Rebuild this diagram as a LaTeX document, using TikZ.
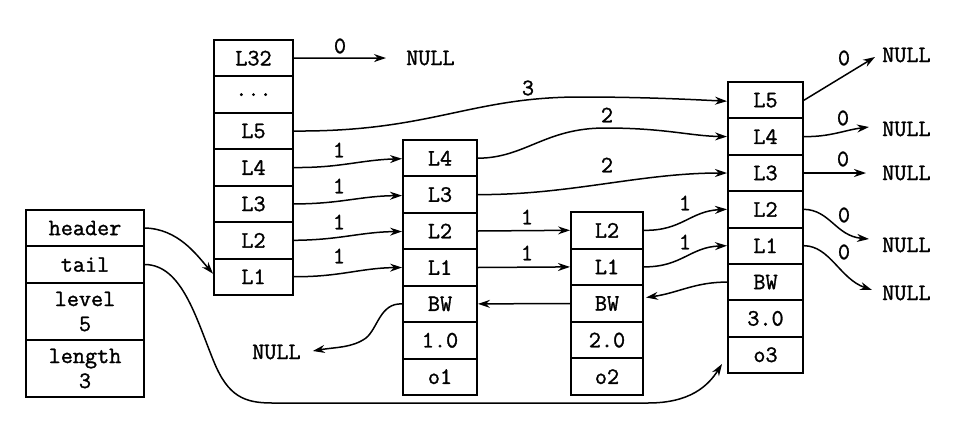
\documentclass[tikz,border=0pt]{standalone}
\usepackage{fontspec}
\usetikzlibrary{arrows.meta,calc}
\newfontfamily\courfam[FakeBold=1.3]{Latin Modern Mono}
\newcommand\mytxt{\courfam\fontsize{23.5}{25}\selectfont}
\tikzset{
  cell/.style={draw, line width=2pt, inner sep=0pt, font=\mytxt, align=center},
  hc/.style={cell, minimum width=118pt},
  c0/.style={cell, minimum width=79pt, minimum height=36.4pt},
  c1/.style={cell, minimum width=74pt, minimum height=36.4pt},
  c2/.style={cell, minimum width=72pt, minimum height=36.6pt},
  c3/.style={cell, minimum width=75pt, minimum height=36.4pt},
  lnk/.style={line width=1.5pt, -{Stealth[length=12pt,width=8pt]}},
  num/.style={font=\mytxt, inner sep=0pt},
  nul/.style={font=\mytxt, inner sep=0pt, anchor=west}
}
\begin{document}
\begin{tikzpicture}[x=1pt,y=-1pt]
\useasboundingbox (0,0) rectangle (978,426);
% list header
\node[hc, minimum height=36pt] (hd) at (85,228) {header};
\node[hc, minimum height=37pt] (tl) at (85,264.5) {tail};
\node[hc, minimum height=57pt] (lv) at (85,311.5) {level\\5};
\node[hc, minimum height=57pt] (ln) at (85,368.5) {length\\3};
% header node
\node[c0] (h32) at (253.5,58.2) {L32};
\node[c0] (hdt) at (253.5,94.6) {...};
\node[c0] (h5) at (253.5,131) {L5};
\node[c0] (h4) at (253.5,167.5) {L4};
\node[c0] (h3) at (253.5,203.9) {L3};
\node[c0] (h2) at (253.5,240.3) {L2};
\node[c0] (h1) at (253.5,276.7) {L1};
% node 1
\node[c1] (a4) at (440,158.2) {L4};
\node[c1] (a3) at (440,194.6) {L3};
\node[c1] (a2) at (440,231) {L2};
\node[c1] (a1) at (440,267.5) {L1};
\node[c1] (abw) at (440,303.9) {BW};
\node[c1] (asc) at (440,340.3) {1.0};
\node[c1] (aob) at (440,376.7) {o1};
% node 2
\node[c2] (b2) at (607,230.3) {L2};
\node[c2] (b1) at (607,266.9) {L1};
\node[c2] (bbw) at (607,303.5) {BW};
\node[c2] (bsc) at (607,340.1) {2.0};
\node[c2] (bob) at (607,376.7) {o2};
% node 3
\node[c3] (c5) at (765.5,100.2) {L5};
\node[c3] (c4) at (765.5,136.6) {L4};
\node[c3] (c3) at (765.5,173) {L3};
\node[c3] (c2) at (765.5,209.3) {L2};
\node[c3] (c1) at (765.5,245.7) {L1};
\node[c3] (cbw) at (765.5,282.1) {BW};
\node[c3] (csc) at (765.5,318.4) {3.0};
\node[c3] (cob) at (765.5,354.8) {o3};
% NULL targets
\node[nul] (n0) at (406,58) {NULL};
\node[nul] (nl) at (252,352) {NULL};
\node[nul] (r5) at (882,55) {NULL};
\node[nul] (r4) at (882,129) {NULL};
\node[nul] (r3) at (882,173) {NULL};
\node[nul] (r2) at (882,245) {NULL};
\node[nul] (r1) at (882,293) {NULL};
\coordinate (tailend) at ($(cob.south west)+(-5,-10)$);
% header / tail pointers
\draw[lnk] (hd.east) .. controls (178,229) and (196,254) .. ($(h1.west)+(0,-3)$);
\draw[lnk] (tl.east) .. controls (182,265) and (196,318) .. (214,362)
  .. controls (228,396) and (244,403) .. (272,403) -- (648,403)
  .. controls (690,403) and (708,386) .. (tailend);
% level 32
\draw[lnk, shorten >=20pt] (h32.east) -- (n0.west);
\node[num] (l0) at (340,46) {0};
% level 5
\draw[lnk] (h5.east) .. controls (430,132) and (470,97) .. (580,97)
  .. controls (650,97) and (700,100) .. ($(c5.west)+(0,1)$);
\node[num] (l3) at (528,88) {3};
% header -> node1
\draw[lnk] (h4.east) .. controls (340,168) and (360,160) .. ($(a4.west)+(0,0.5)$);
\draw[lnk] (h3.east) .. controls (340,204) and (360,196) .. ($(a3.west)+(0,1)$);
\draw[lnk] (h2.east) .. controls (340,240) and (360,232) .. ($(a2.west)+(0,0.5)$);
\draw[lnk] (h1.east) .. controls (340,277) and (360,268) .. ($(a1.west)+(0,0)$);
\node[num] (la4) at (339,150) {1};
\node[num] (la3) at (339,186) {1};
\node[num] (la2) at (339,222) {1};
\node[num] (la1) at (339,256) {1};
% node1 -> node3
\draw[lnk] (a4.east) .. controls (525,158) and (545,128) .. (605,128)
  .. controls (665,128) and (690,136) .. (c4.west);
\node[num] (lb4) at (607,115) {2};
\draw[lnk] (a3.east) .. controls (570,195) and (640,173) .. (c3.west);
\node[num] (lb3) at (607,165) {2};
% node1 -> node2
\draw[lnk] (a2.east) -- (b2.west);
\draw[lnk] (a1.east) -- (b1.west);
\node[num] (lc2) at (527,217) {1};
\node[num] (lc1) at (527,253) {1};
% node2 -> node3
\draw[lnk] (b2.east) .. controls (682,231) and (690,211) .. (c2.west);
\draw[lnk] (b1.east) .. controls (682,267) and (690,247) .. (c1.west);
\node[num] (ld2) at (685,203) {1};
\node[num] (ld1) at (685,242) {1};
% backward pointers
\draw[lnk] (cbw.west) .. controls (695,282) and (678,293) .. ($(bbw.east)+(2,-6)$);
\draw[lnk] (bbw.west) -- (abw.east);
\draw[lnk] (abw.west) .. controls (380,303) and (378,328) .. (366,338)
  .. controls (352,348) and (336,347) .. ($(nl.east)+(12,-1)$);
% node3 -> NULL
\draw[lnk] (c5.east) -- ($(r5.west)+(-7,2)$);
\draw[lnk] (c4.east) .. controls (830,137) and (845,130) .. ($(r4.west)+(-13,-2)$);
\draw[lnk] (c3.east) -- ($(r3.west)+(-16,0)$);
\draw[lnk] (c2.east) .. controls (830,210) and (836,236) .. ($(r2.west)+(-13,-6)$);
\draw[lnk] (c1.east) .. controls (830,246) and (840,279) .. ($(r1.west)+(-10,-3)$);
\node[num] (le5) at (844,58) {0};
\node[num] (le4) at (843,118) {0};
\node[num] (le3) at (843,159) {0};
\node[num] (le2) at (844,215) {0};
\node[num] (le1) at (844,252) {0};
\end{tikzpicture}
\end{document}
